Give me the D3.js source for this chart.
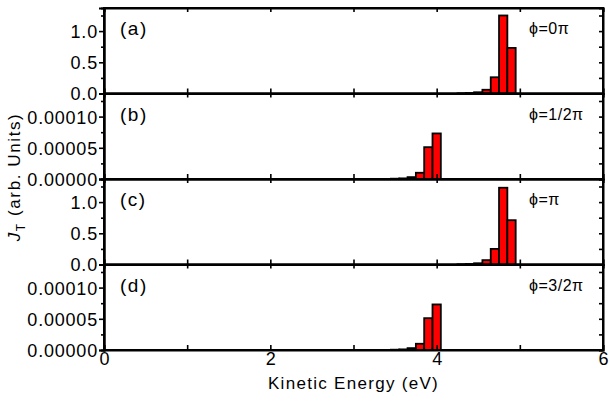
<!DOCTYPE html>
<html><head><meta charset="utf-8">
<script src="https://cdn.jsdelivr.net/npm/d3@7"></script>
<style>body{margin:0;background:#fff}svg{display:block}text{font-family:Arial,"Liberation Sans",sans-serif;fill:#000}</style>
</head><body><svg id="c" width="610" height="402"></svg>
<script>
// ---- data ----
const panelLabels = ["(a)", "(b)", "(c)", "(d)"];
const phiLabels = ["ϕ=0π", "ϕ=1/2π", "ϕ=π", "ϕ=3/2π"];
const energiesA = [4.3, 4.4, 4.5, 4.6, 4.7, 4.8, 4.9];
const valuesA = [0.003, 0.008, 0.02, 0.06, 0.26, 1.25, 0.73];
const energiesB = [3.5, 3.6, 3.7, 3.8, 3.9, 4.0];
const valuesB = [0.0000005, 0.000001, 0.000003, 0.00001, 0.000051, 0.000073];
const energiesC = [4.3, 4.4, 4.5, 4.6, 4.7, 4.8, 4.9];
const valuesC = [0.003, 0.008, 0.02, 0.07, 0.25, 1.23, 0.71];
const energiesD = [3.5, 3.6, 3.7, 3.8, 3.9, 4.0];
const valuesD = [0.0000005, 0.000001, 0.000003, 0.00001, 0.000051, 0.000073];
const xTicks = [0, 1, 2, 3, 4, 5, 6];
const xLabelTicks = [0, 2, 4, 6];
const yTicksBig = [0, 0.5, 1.0];
const yTicksBigMinor = [0.25, 0.75, 1.25];
const yTicksSmall = [0, 0.00005, 0.0001];
const yTicksSmallMinor = [0.000025, 0.000075, 0.000125];
const binWidth = 0.1;

const panels = [
  {e: energiesA, v: valuesA, dom: [0, 1.37], major: yTicksBig, minor: yTicksBigMinor, fmt: d3.format(".1f")},
  {e: energiesB, v: valuesB, dom: [0, 0.000137], major: yTicksSmall, minor: yTicksSmallMinor, fmt: d3.format(".5f")},
  {e: energiesC, v: valuesC, dom: [0, 1.37], major: yTicksBig, minor: yTicksBigMinor, fmt: d3.format(".1f")},
  {e: energiesD, v: valuesD, dom: [0, 0.000137], major: yTicksSmall, minor: yTicksSmallMinor, fmt: d3.format(".5f")}
];

const svg = d3.select("#c");
const L = 104, R = 603, T = 8, PH = 85.5;
const x = d3.scaleLinear().domain([0, 6]).range([L, R]);
const FS = 18;

panels.forEach((p, i) => {
  const top = T + i * PH, bot = top + PH;
  const y = d3.scaleLinear().domain(p.dom).range([bot, top]);
  const g = svg.append("g");
  // bars
  g.selectAll("rect").data(p.e.map((e, k) => ({e, v: p.v[k]}))).join("rect")
    .attr("x", d => x(d.e - binWidth / 2))
    .attr("width", d => x(d.e + binWidth / 2) - x(d.e - binWidth / 2))
    .attr("y", d => y(d.v))
    .attr("height", d => bot - y(d.v))
    .attr("fill", "#ff0000").attr("stroke", "#000").attr("stroke-width", 1.8);
  // left axis major
  const la = g.append("g").attr("transform", `translate(${L},0)`)
    .call(d3.axisLeft(y).tickValues(p.major).tickSize(5).tickPadding(1).tickFormat(p.fmt));
  la.selectAll("text").style("font-size", FS + "px").style("letter-spacing", "0.8px").attr("dy", "0.36em");
  g.append("g").attr("transform", `translate(${L},0)`)
    .call(d3.axisLeft(y).tickValues(p.minor).tickSize(3).tickFormat(""));
  // right axis inward
  g.append("g").attr("transform", `translate(${R},0)`)
    .call(d3.axisRight(y).tickValues(p.major.concat(p.minor)).tickSize(-4).tickFormat(""));
  // top axis inward
  g.append("g").attr("transform", `translate(0,${top})`)
    .call(d3.axisTop(x).tickValues(xTicks).tickSize(-4).tickFormat(""));
  // bottom axis inward
  const ba = g.append("g").attr("transform", `translate(0,${bot})`)
    .call(d3.axisBottom(x).tickValues(xTicks).tickSize(-5).tickPadding(2)
      .tickFormat(d => (i === 3 && xLabelTicks.includes(d)) ? d : ""));
  ba.selectAll("text").style("font-size", FS + "px");
  g.selectAll(".domain").attr("stroke-width", 2);
  g.selectAll(".tick line").attr("stroke-width", 1.6);
  // frame
  g.append("rect").attr("x", L).attr("y", top).attr("width", R - L).attr("height", PH)
    .attr("fill", "none").attr("stroke", "#000").attr("stroke-width", 2);
  // labels
  g.append("text").attr("x", L + 16).attr("y", top + 27).text(panelLabels[i])
    .style("font-size", "19px").style("letter-spacing", "1.5px");
  g.append("text").attr("x", 529).attr("y", top + 26).text(phiLabels[i])
    .style("font-size", "16px").style("letter-spacing", "0.5px");
});

svg.selectAll(".tick text").attr("font-family", null);

// x title
svg.append("text").attr("x", (L + R) / 2).attr("y", 389).attr("text-anchor", "middle")
  .style("font-size", "17px").style("letter-spacing", "1.3px").text("Kinetic Energy (eV)");
// y title
const yt = svg.append("text").attr("transform", `translate(20,${T + 2 * PH - 2}) rotate(-90)`)
  .attr("text-anchor", "middle").style("font-size", "17px").style("letter-spacing", "1.6px");
yt.append("tspan").style("font-style", "italic").text("J");
yt.append("tspan").attr("dy", 5).style("font-size", "12px").text("T");
yt.append("tspan").attr("dy", -5).text(" (arb. Units)");
</script></body></html>
